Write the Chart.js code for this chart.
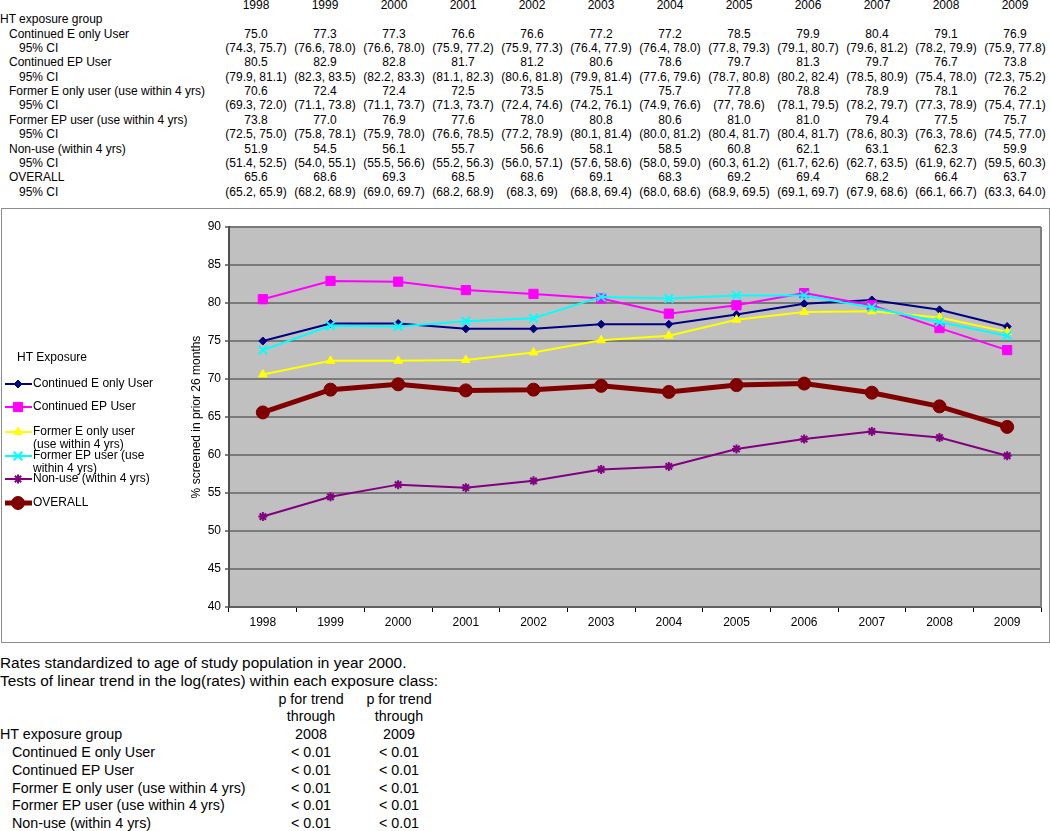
<!DOCTYPE html>
<html><head><meta charset="utf-8">
<script src="https://cdn.jsdelivr.net/npm/chart.js@4.4.1/dist/chart.umd.min.js"></script>
<style>
html,body{margin:0;padding:0;background:#fff;}
body{width:1050px;height:831px;position:relative;overflow:hidden;font-family:"Liberation Sans",Arial,sans-serif;color:#000;}
.t{position:absolute;white-space:nowrap;font-size:12px;line-height:14px;}
.b{position:absolute;white-space:nowrap;font-size:14.3px;line-height:18px;}
.n{position:absolute;white-space:nowrap;font-size:15.4px;line-height:18px;}
.c{transform:translateX(-50%);}
#box{position:absolute;left:1px;top:208px;width:1049px;height:435px;box-sizing:border-box;border:1px solid #8c8c8c;}
#cv{position:absolute;left:0;top:0;}
</style></head><body>
<div id="top"></div>
<div id="box"><canvas id="cv" width="1047" height="433" style="width:1047px;height:433px"></canvas></div>
<div id="bottom"></div>
<script>
// ---------- data ----------
const years = ["1998","1999","2000","2001","2002","2003","2004","2005","2006","2007","2008","2009"];
const tableHeading = "HT exposure group";
const ciLabel = "95% CI";
const groupNames = ["Continued E only User","Continued EP User","Former E only user (use within 4 yrs)","Former EP user (use within 4 yrs)","Non-use (within 4 yrs)","OVERALL"];

const contE   = [75.0, 77.3, 77.3, 76.6, 76.6, 77.2, 77.2, 78.5, 79.9, 80.4, 79.1, 76.9];
const contEP  = [80.5, 82.9, 82.8, 81.7, 81.2, 80.6, 78.6, 79.7, 81.3, 79.7, 76.7, 73.8];
const formerE = [70.6, 72.4, 72.4, 72.5, 73.5, 75.1, 75.7, 77.8, 78.8, 78.9, 78.1, 76.2];
const formerEP= [73.8, 77.0, 76.9, 77.6, 78.0, 80.8, 80.6, 81.0, 81.0, 79.4, 77.5, 75.7];
const nonUse  = [51.9, 54.5, 56.1, 55.7, 56.6, 58.1, 58.5, 60.8, 62.1, 63.1, 62.3, 59.9];
const overall = [65.6, 68.6, 69.3, 68.5, 68.6, 69.1, 68.3, 69.2, 69.4, 68.2, 66.4, 63.7];

const ciContE   = ["(74.3, 75.7)","(76.6, 78.0)","(76.6, 78.0)","(75.9, 77.2)","(75.9, 77.3)","(76.4, 77.9)","(76.4, 78.0)","(77.8, 79.3)","(79.1, 80.7)","(79.6, 81.2)","(78.2, 79.9)","(75.9, 77.8)"];
const ciContEP  = ["(79.9, 81.1)","(82.3, 83.5)","(82.2, 83.3)","(81.1, 82.3)","(80.6, 81.8)","(79.9, 81.4)","(77.6, 79.6)","(78.7, 80.8)","(80.2, 82.4)","(78.5, 80.9)","(75.4, 78.0)","(72.3, 75.2)"];
const ciFormerE = ["(69.3, 72.0)","(71.1, 73.8)","(71.1, 73.7)","(71.3, 73.7)","(72.4, 74.6)","(74.2, 76.1)","(74.9, 76.6)","(77, 78.6)","(78.1, 79.5)","(78.2, 79.7)","(77.3, 78.9)","(75.4, 77.1)"];
const ciFormerEP= ["(72.5, 75.0)","(75.8, 78.1)","(75.9, 78.0)","(76.6, 78.5)","(77.2, 78.9)","(80.1, 81.4)","(80.0, 81.2)","(80.4, 81.7)","(80.4, 81.7)","(78.6, 80.3)","(76.3, 78.6)","(74.5, 77.0)"];
const ciNonUse  = ["(51.4, 52.5)","(54.0, 55.1)","(55.5, 56.6)","(55.2, 56.3)","(56.0, 57.1)","(57.6, 58.6)","(58.0, 59.0)","(60.3, 61.2)","(61.7, 62.6)","(62.7, 63.5)","(61.9, 62.7)","(59.5, 60.3)"];
const ciOverall = ["(65.2, 65.9)","(68.2, 68.9)","(69.0, 69.7)","(68.2, 68.9)","(68.3, 69)","(68.8, 69.4)","(68.0, 68.6)","(68.9, 69.5)","(69.1, 69.7)","(67.9, 68.6)","(66.1, 66.7)","(63.3, 64.0)"];

const legendTitle = "HT Exposure";
const legendLines = [["Continued E only User"],["Continued EP User"],["Former E only user","(use within 4 yrs)"],["Former EP user (use","within 4 yrs)"],["Non-use (within 4 yrs)"],["OVERALL"]];
const yTitle = "% screened in prior 26 months";
const yMin = 40, yMax = 90, yStep = 5;

const noteLines = ["Rates standardized to age of study population in year 2000.","Tests of linear trend in the log(rates) within each exposure class:"];
const pHeadLines = [["p for trend","through","2008"],["p for trend","through","2009"]];
const pGroups = ["Continued E only User","Continued EP User","Former E only user (use within 4 yrs)","Former EP user (use within 4 yrs)","Non-use (within 4 yrs)"];
const p2008 = ["< 0.01","< 0.01","< 0.01","< 0.01","< 0.01"];
const p2009 = ["< 0.01","< 0.01","< 0.01","< 0.01","< 0.01"];

// ---------- styles ----------
const seriesValues = [contE, contEP, formerE, formerEP, nonUse, overall];
const seriesCIs = [ciContE, ciContEP, ciFormerE, ciFormerEP, ciNonUse, ciOverall];
const colors = ["#000080","#FF00FF","#FFFF00","#00FFFF","#800080","#800000"];
const lineWidths = [2,2,2,2,2,5];
const markers = ["rectRot","rect","triangle","crossRot","star","circle"];
const markerSizes = [4,6.5,5,6,4.5,6.5];
const markerBorders = [1,1,1,2,2,1];
const FONT = '"Liberation Sans", Arial, sans-serif';

// ---------- top table ----------
function put(parent, cls, text, x, yc, lh, center) {
  const d = document.createElement('div');
  d.className = cls + (center ? ' c' : '');
  d.textContent = text;
  d.style.left = x + 'px';
  d.style.top = (yc - lh / 2) + 'px';
  parent.appendChild(d);
}
const topEl = document.getElementById('top');
const colX = i => 256 + 69 * i;
const rowY = k => 5 + 14.35 * k;
years.forEach((y, i) => put(topEl, 't', y, colX(i), rowY(0), 14, true));
put(topEl, 't', tableHeading, 0, rowY(1), 14, false);
groupNames.forEach((g, gi) => {
  put(topEl, 't', g, 9, rowY(2 + 2 * gi), 14, false);
  put(topEl, 't', ciLabel, 19, rowY(3 + 2 * gi), 14, false);
  seriesValues[gi].forEach((v, i) => put(topEl, 't', v.toFixed(1), colX(i), rowY(2 + 2 * gi), 14, true));
  seriesCIs[gi].forEach((v, i) => put(topEl, 't', v, colX(i), rowY(3 + 2 * gi), 14, true));
});

// ---------- bottom notes ----------
const botEl = document.getElementById('bottom');
const bY = k => 663 + 17.8 * k;
noteLines.forEach((t, k) => put(botEl, 'n', t, 0, bY(k), 18, false));
const pCols = [311, 399];
pHeadLines.forEach((lines, c) => lines.forEach((t, k) => put(botEl, 'b', t, pCols[c], bY(2 + k), 18, true)));
put(botEl, 'b', tableHeading, 0, bY(4), 18, false);
pGroups.forEach((g, k) => {
  put(botEl, 'b', g, 12, bY(5 + k), 18, false);
  put(botEl, 'b', p2008[k], pCols[0], bY(5 + k), 18, true);
  put(botEl, 'b', p2009[k], pCols[1], bY(5 + k), 18, true);
});

// ---------- chart ----------
const bgPlugin = {
  id: 'plotBg',
  beforeDraw(chart) {
    const a = chart.chartArea, ctx = chart.ctx;
    ctx.save();
    ctx.fillStyle = '#C0C0C0';
    ctx.fillRect(a.left, a.top, a.right - a.left, a.bottom - a.top);
    ctx.restore();
  },
  beforeDatasetsDraw(chart) {
    const a = chart.chartArea, ctx = chart.ctx;
    ctx.save();
    ctx.strokeStyle = '#808080';
    ctx.lineWidth = 2;
    ctx.beginPath();
    ctx.moveTo(a.right, a.top); ctx.lineTo(a.right, a.bottom);
    ctx.stroke();
    ctx.restore();
  }
};

const legendYs = [175, 198, 223, 247, 270, 294];
const legendPlugin = {
  id: 'sideLegend',
  afterDraw(chart) {
    const ctx = chart.ctx;
    ctx.save();
    ctx.font = '12px ' + FONT;
    ctx.fillStyle = '#000';
    ctx.textBaseline = 'middle';
    ctx.textAlign = 'left';
    ctx.fillText(legendTitle, 15, 149);
    chart.data.datasets.forEach((ds, i) => {
      const y = legendYs[i];
      ctx.strokeStyle = ds.borderColor;
      ctx.lineWidth = ds.borderWidth;
      ctx.beginPath(); ctx.moveTo(3, y); ctx.lineTo(30, y); ctx.stroke();
      ctx.fillStyle = ds.pointBackgroundColor;
      ctx.strokeStyle = ds.pointBorderColor;
      ctx.lineWidth = ds.pointBorderWidth;
      Chart.helpers.drawPoint(ctx, {pointStyle: ds.pointStyle, radius: ds.pointRadius, borderWidth: ds.pointBorderWidth, rotation: 0}, 16, y);
      ctx.fillStyle = '#000';
      legendLines[i].forEach((t, k) => ctx.fillText(t, 31, y + 13 * k));
    });
    ctx.restore();
  }
};

new Chart(document.getElementById('cv'), {
  type: 'line',
  data: {
    labels: years,
    datasets: groupNames.map((n, i) => ({
      label: n,
      data: seriesValues[i],
      borderColor: colors[i],
      backgroundColor: colors[i],
      borderWidth: lineWidths[i],
      pointStyle: markers[i],
      pointRadius: markerSizes[i],
      pointBorderWidth: markerBorders[i],
      pointBackgroundColor: colors[i],
      pointBorderColor: colors[i],
      tension: 0,
      fill: false,
      order: groupNames.length - i
    }))
  },
  options: {
    responsive: false,
    animation: false,
    events: [],
    layout: {padding: {left: 150, right: 8, top: 18, bottom: 0}},
    plugins: {legend: {display: false}, tooltip: {enabled: false}},
    scales: {
      x: {
        offset: true,
        grid: {offset: true, drawOnChartArea: false, drawTicks: true, tickLength: 5, color: '#000', tickColor: '#000', tickWidth: 1},
        border: {color: '#606060', width: 2},
        ticks: {padding: 3, color: '#000', font: {size: 12, family: FONT}, maxRotation: 0, autoSkip: false},
        afterFit(s) { s.height = 35; }
      },
      y: {
        min: yMin, max: yMax,
        ticks: {stepSize: yStep, padding: 4, color: '#000', font: {size: 12, family: FONT}},
        grid: {color: '#7a7a7a', lineWidth: 2, tickLength: 4, tickColor: '#000', tickWidth: 1},
        border: {color: '#505050', width: 2},
        title: {display: true, text: yTitle, color: '#000', font: {size: 12, family: FONT}, padding: {top: 37, bottom: 0}},
        afterFit(s) { s.width = 77; }
      }
    }
  },
  plugins: [bgPlugin, legendPlugin]
});
</script>
</body></html>
